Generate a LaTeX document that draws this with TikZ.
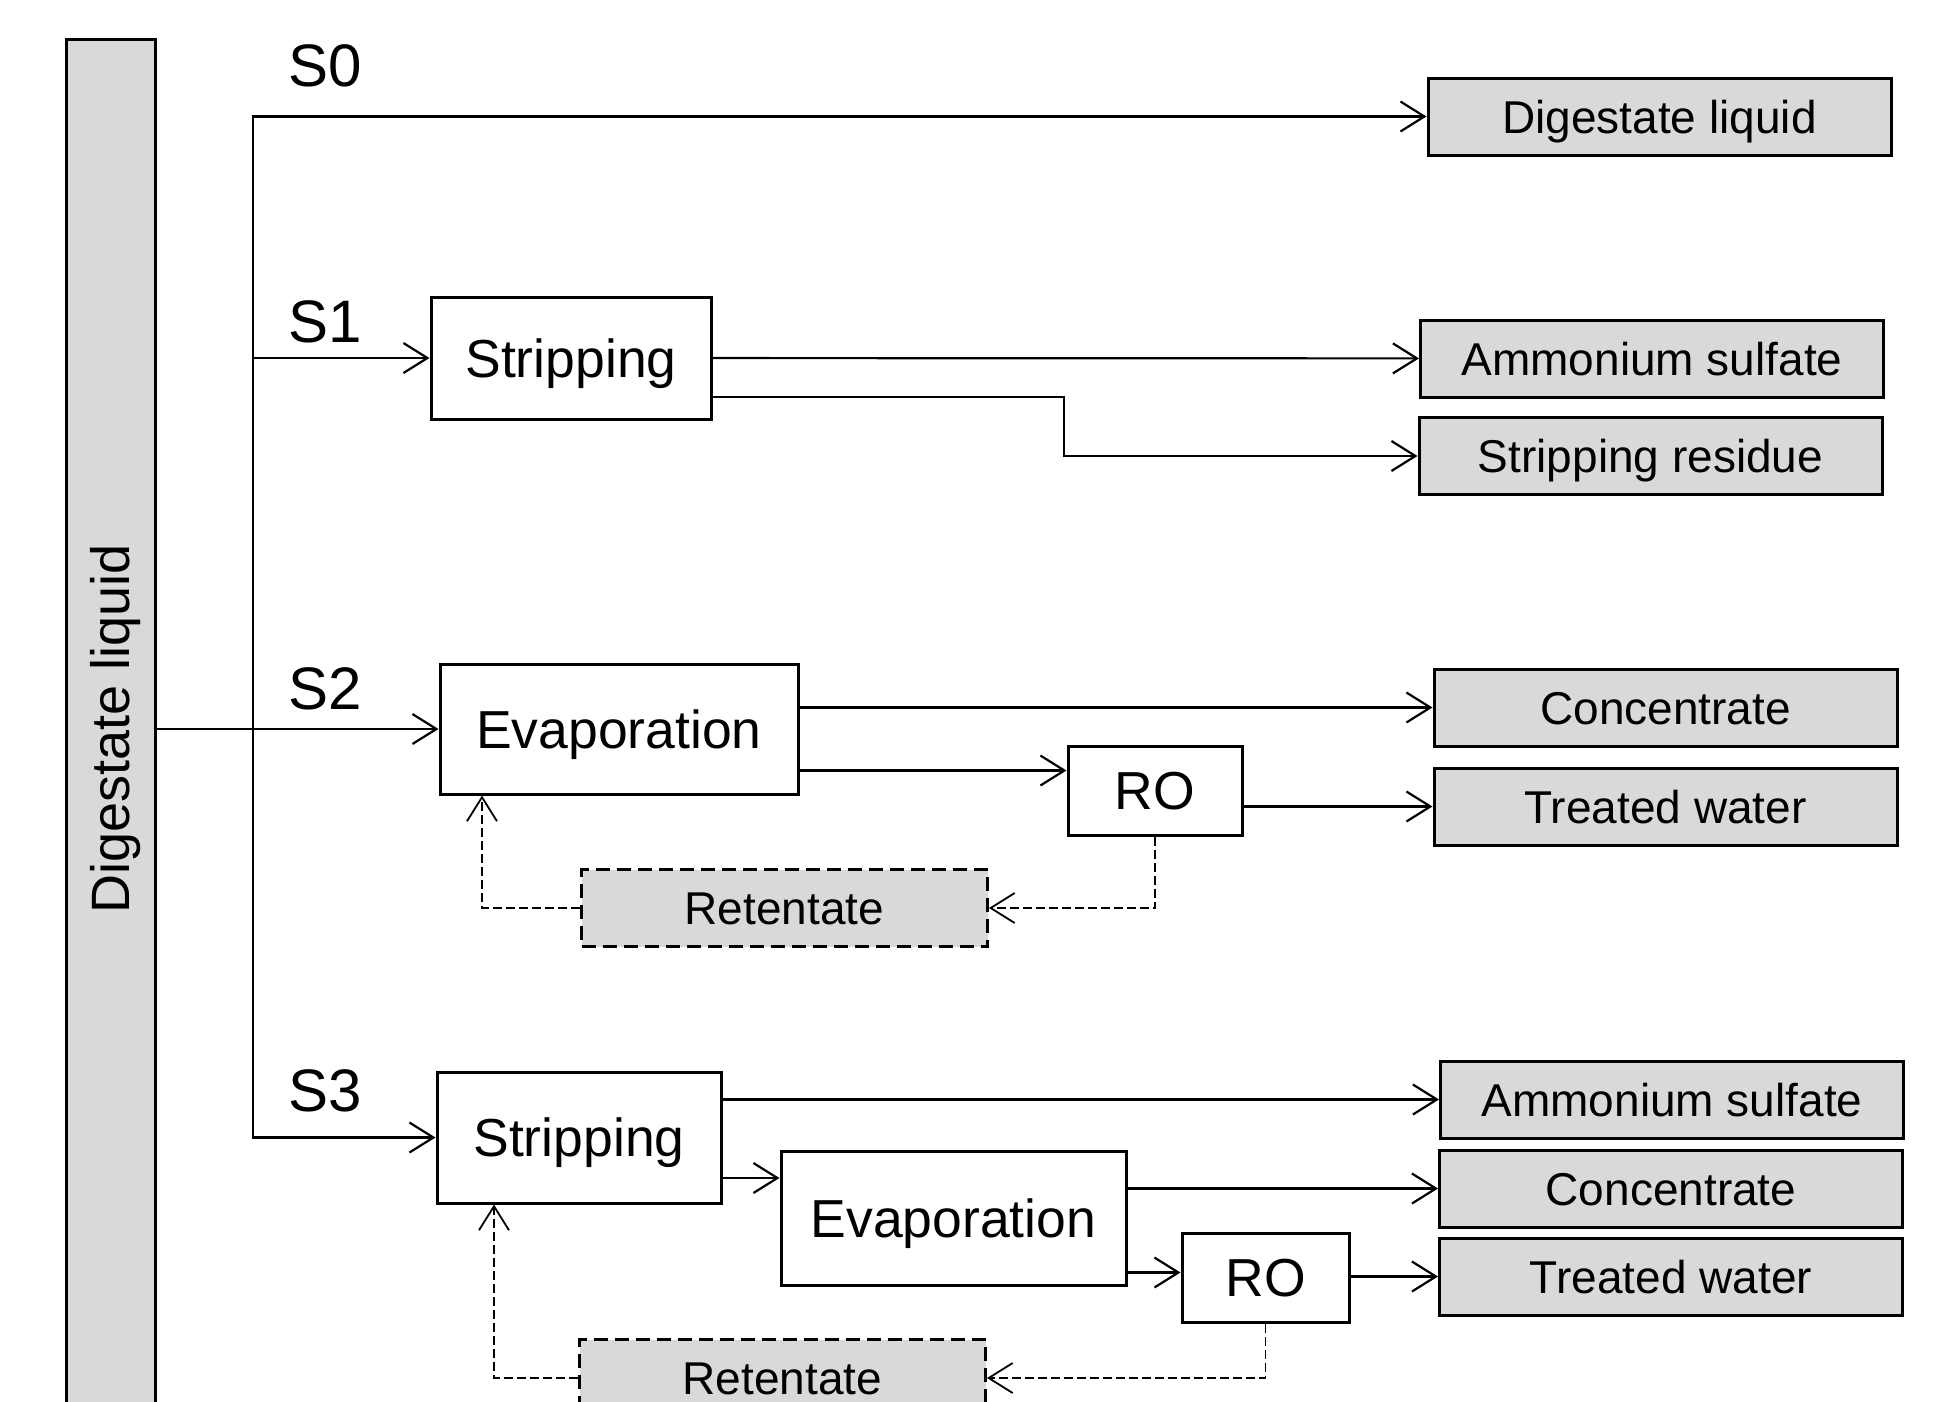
\documentclass[tikz,border=0pt]{standalone}
\usepackage{fontspec}
\setmainfont{Liberation Sans}
\usepackage{graphicx}
\usetikzlibrary{arrows.meta}
\definecolor{boxgray}{HTML}{D9D9D9}

\begin{document}
\begin{tikzpicture}[x=1pt,y=-1pt]
		%\draw[help lines] (0,0) grid (1943,1401);
		\tikzset{
		proc/.style 	= {draw, line width=3pt, fill=white, inner sep=0pt,
			text height=38.3pt, text depth=0pt,
			font=\fontsize{53.5}{60}\selectfont},
		prod/.style 	= {draw, line width=3pt, fill=boxgray, inner sep=0pt,
			minimum width=463pt, minimum height=77pt,
			text height=33pt, text depth=0pt,
			font=\fontsize{46}{52}\selectfont},
		ret/.style 	= {prod, minimum width=406pt, dash pattern=on 14pt off 7pt},
		lab/.style 	= {inner sep=0pt, font=\fontsize{60}{66}\selectfont},
		flow/.style 	= {line width=2.2pt, -{Straight Barb[length=24pt,width=30pt]}},
		back/.style 	= {flow, line width=1.8pt, dash pattern=on 9pt off 4pt}}

		\useasboundingbox (0,0) rectangle (1943,1401);
		\clip (0,0) rectangle (1943,1401);

		\node[draw, line width=3pt, fill=boxgray, inner sep=0pt,
			minimum width=89pt, minimum height=1380pt] (feed) at (110.5,729)
			{\rotatebox{90}{\fontsize{54}{60}\selectfont\raisebox{0pt}[38.7pt][0pt]{Digestate liquid}}};
		\coordinate (split) at (253,729);

		\node[lab] (l0) at (325,66) {S0};
		\node[lab] (l1) at (325,322) {S1};
		\node[lab] (l2) at (325,689) {S2};
		\node[lab] (l3) at (325,1091) {S3};

		\node[prod] (dl0) at (1659.5,116.5) {Digestate liquid};

		\node[proc, minimum width=280pt, minimum height=122pt] (st1) at (571,358) {Stripping};
		\node[prod] (am1) at (1652,358.5) {Ammonium sulfate};
		\node[prod] (re1) at (1650.5,456) {Stripping residue};

		\node[proc, minimum width=358pt, minimum height=130pt] (ev2) at (619,729) {Evaporation};
		\node[proc, minimum width=174pt, minimum height=89pt] (ro2) at (1155,790.5) {RO};
		\node[prod] (co2) at (1665.5,707.5) {Concentrate};
		\node[prod] (tw2) at (1665.5,806.5) {Treated water};
		\node[ret] (rt2) at (784.5,908) {Retentate};

		\node[proc, minimum width=284pt, minimum height=131pt] (st3) at (579,1137.5) {Stripping};
		\node[proc, minimum width=345pt, minimum height=134pt] (ev3) at (953.5,1218) {Evaporation};
		\node[proc, minimum width=167pt, minimum height=89pt] (ro3) at (1265.5,1277.5) {RO};
		\node[prod] (am3) at (1672,1099.5) {Ammonium sulfate};
		\node[prod] (co3) at (1671,1188.5) {Concentrate};
		\node[prod] (tw3) at (1671,1276.5) {Treated water};
		\node[ret] (rt3) at (782.5,1378) {Retentate};

		\coordinate (b1) at (1064,397);
		\coordinate (ro2a) at ([yshift=20pt]ro2.west);
		\coordinate (ev2b) at ([xshift=-137pt]ev2.south);
		\coordinate (ev3a) at ([yshift=40pt]ev3.west);
		\coordinate (ro3a) at ([yshift=5pt]ro3.west);
		\coordinate (st3b) at ([xshift=-85pt]st3.south);

		\draw[flow] (feed) -- (ev2);
		\draw[flow] (split) |- (dl0);
		\draw[flow] (split) |- (st1);
		\draw[flow] (split) |- (st3);

		\draw[flow] (st1) -- (am1);
		\draw[flow] (st1.east|-b1) -- (b1) |- (re1);

		\draw[flow] (ev2.east|-co2) -- (co2);
		\draw[flow] (ev2.east|-ro2a) -- (ro2a);
		\draw[flow] (ro2.east|-tw2) -- (tw2);
		\draw[back] (ro2) |- (rt2);
		\draw[back] (rt2) -| (ev2b);

		\draw[flow] (st3.east|-am3) -- (am3);
		\draw[flow] (st3.east|-ev3a) -- (ev3a);
		\draw[flow] (ev3.east|-co3) -- (co3);
		\draw[flow] (ev3.east|-ro3a) -- (ro3a);
		\draw[flow] (ro3.east|-tw3) -- (tw3);
		\draw[back] (ro3) |- (rt3);
		\draw[back] (rt3) -| (st3b);
\end{tikzpicture}
\end{document}
